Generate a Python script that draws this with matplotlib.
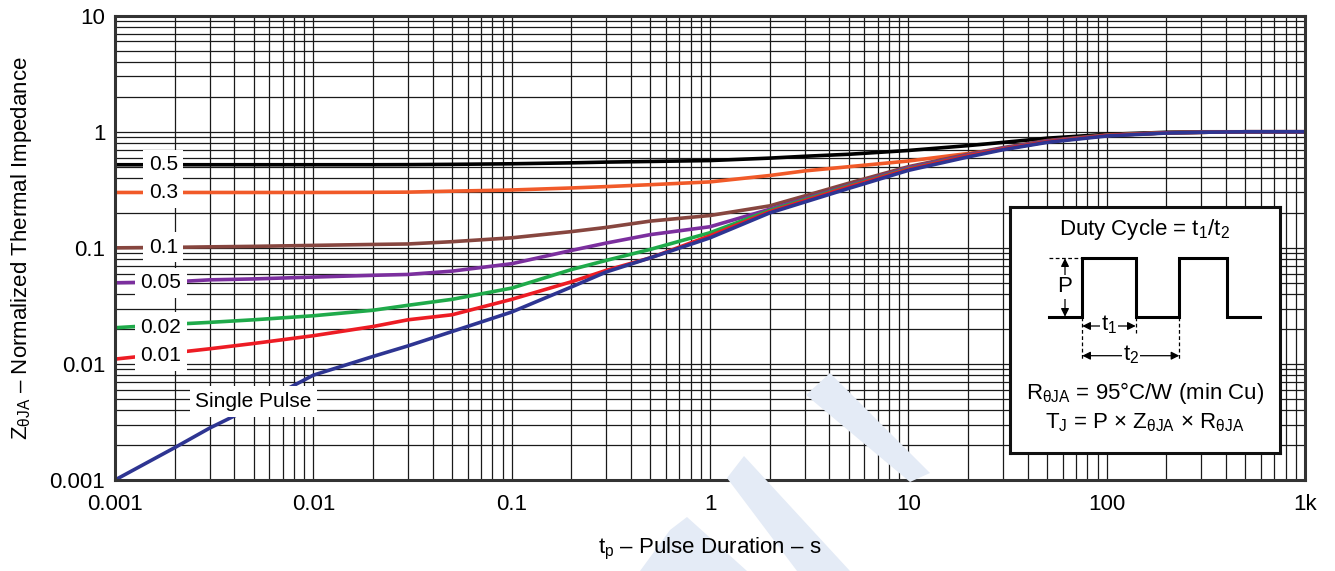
import numpy as np
import matplotlib
matplotlib.use("Agg")
import matplotlib.pyplot as plt
from matplotlib.patches import Polygon, FancyArrowPatch

plt.rcParams['font.family'] = ['Liberation Sans', 'DejaVu Sans']
plt.rcParams['mathtext.fontset'] = 'custom'
plt.rcParams['mathtext.rm'] = 'Liberation Sans'
plt.rcParams['mathtext.it'] = 'Liberation Sans:italic'

# pulse duration (s)
t = [0.001, 0.002, 0.003, 0.005, 0.01, 0.02, 0.03, 0.05, 0.1, 0.2, 0.3, 0.5,
     1, 2, 3, 5, 10, 20, 30, 50, 100, 200, 300, 500, 1000]

# normalized thermal impedance for each duty cycle
z_05 = [0.52, 0.52, 0.52, 0.52, 0.52, 0.52, 0.521, 0.524, 0.53, 0.54, 0.548, 0.555,
        0.565, 0.593, 0.615, 0.64, 0.69, 0.76, 0.81, 0.88, 0.95, 0.99, 1.0, 1.0, 1.0]
z_03 = [0.30, 0.30, 0.30, 0.30, 0.30, 0.301, 0.302, 0.308, 0.315, 0.328, 0.337, 0.35,
        0.37, 0.42, 0.46, 0.50, 0.56, 0.65, 0.71, 0.83, 0.93, 0.98, 0.99, 1.0, 1.0]
z_01 = [0.100, 0.101, 0.102, 0.103, 0.105, 0.107, 0.108, 0.113, 0.122, 0.138, 0.15, 0.17,
        0.19, 0.23, 0.28, 0.36, 0.50, 0.64, 0.73, 0.84, 0.94, 0.98, 0.99, 1.0, 1.0]
z_005 = [0.050, 0.051, 0.053, 0.054, 0.056, 0.058, 0.059, 0.063, 0.073, 0.095, 0.11, 0.13,
         0.152, 0.215, 0.265, 0.345, 0.49, 0.63, 0.72, 0.83, 0.93, 0.98, 0.99, 1.0, 1.0]
z_002 = [0.0205, 0.022, 0.0228, 0.024, 0.026, 0.029, 0.032, 0.036, 0.045, 0.065, 0.078, 0.097,
         0.135, 0.21, 0.26, 0.34, 0.48, 0.62, 0.71, 0.82, 0.93, 0.98, 0.99, 1.0, 1.0]
z_001 = [0.011, 0.0125, 0.0135, 0.015, 0.0175, 0.021, 0.024, 0.0265, 0.036, 0.051, 0.064, 0.082,
         0.127, 0.205, 0.255, 0.335, 0.475, 0.62, 0.71, 0.82, 0.93, 0.98, 0.99, 1.0, 1.0]
z_single = [0.001, 0.0019, 0.0028, 0.0043, 0.008, 0.0116, 0.0143, 0.019, 0.028, 0.046, 0.062, 0.082,
            0.122, 0.20, 0.248, 0.325, 0.465, 0.607, 0.70, 0.81, 0.92, 0.975, 0.99, 1.0, 1.0]

curves = [
    (z_05, '#000000', '0.5', 0.00175, 0.52),
    (z_03, '#f15a29', '0.3', 0.00175, 0.30),
    (z_01, '#87463f', '0.1', 0.00175, 0.101),
    (z_005, '#7b2f9e', '0.05', 0.00170, 0.050),
    (z_002, '#1faa4a', '0.02', 0.00170, 0.0208),
    (z_001, '#ed1c24', '0.01', 0.00170, 0.0118),
    (z_single, '#2e3592', 'Single Pulse', 0.0050, 0.00475),
]

W, H = 1335, 571
FS = 16
fig = plt.figure(figsize=(W / 100, H / 100), dpi=100)


def px(x, y):
    return (x / W, 1 - y / H)


# faint logo behind the grid
wm = '#e4ebf6'
for poly in [
    [(806, 395), (830, 373), (930, 473), (910, 482)],
    [(727, 478), (744, 456), (850, 571), (797, 571)],
    [(640, 571), (670, 530), (687, 517), (747, 571)],
]:
    fig.patches.append(Polygon([px(*p) for p in poly], closed=True,
                               transform=fig.transFigure, facecolor=wm,
                               edgecolor='none', zorder=0))

ax = fig.add_axes([115 / W, 1 - 480 / H, 1190 / W, 464.3 / H])
ax.set_facecolor('none')
ax.set_xscale('log')
ax.set_yscale('log')
ax.set_xlim(0.001, 1000)
ax.set_ylim(0.001, 10)

ax.grid(True, which='both', color='#1a1a1a', linewidth=0.9)
ax.set_axisbelow(True)
ax.tick_params(which='both', length=0, labelsize=FS)
ax.tick_params(axis='x', pad=10)
ax.tick_params(axis='y', pad=7)
ax.set_xticks([0.001, 0.01, 0.1, 1, 10, 100, 1000])
ax.set_xticklabels(['0.001', '0.01', '0.1', '1', '10', '100', '1k'])
ax.set_yticks([0.001, 0.01, 0.1, 1, 10])
ax.set_yticklabels(['0.001', '0.01', '0.1', '1', '10'])
for s in ax.spines.values():
    s.set_linewidth(2.2)
    s.set_color('#333333')
    s.set_zorder(5)

for z, c, lab, lx, ly in curves:
    ax.plot(t, z, color=c, linewidth=2.6, solid_capstyle='butt', zorder=3)
for z, c, lab, lx, ly in curves:
    ax.text(lx, ly, lab, fontsize=15, ha='center', va='center', zorder=4,
            bbox=dict(facecolor='white', edgecolor='none', pad=4))

fig.text(710 / W, 1 - 549 / H, r'$\mathrm{t_p}$ – Pulse Duration – s',
         fontsize=FS, ha='center', va='center')
fig.text(22 / W, 1 - 248 / H, r'Z$_{\mathrm{θJA}}$ – Normalized Thermal Impedance',
         fontsize=FS, ha='center', va='center', rotation=90)

# duty cycle diagram
ins = fig.add_axes([1010 / W, 1 - 453 / H, 270 / W, 246 / H], zorder=6)
ins.set_xlim(0, 270)
ins.set_ylim(246, 0)
ins.set_xticks([])
ins.set_yticks([])
ins.set_facecolor('white')
for s in ins.spines.values():
    s.set_linewidth(2.2)
    s.set_color('#111111')

base, top = 109.7, 51.3
x0, r1, f1, r2, f2, x1 = 39.3, 72.3, 125.7, 169.3, 216.7, 250
ins.plot([x0, r1, r1, f1, f1, r2, r2, f2, f2, x1],
         [base, base, top, top, base, base, top, top, base, base],
         color='black', linewidth=2.2, solid_joinstyle='miter')
dash = dict(color='black', linewidth=0.9, linestyle=(0, (3, 2)))
ins.plot([x0, r1], [top, top], **dash)
ins.plot([r1, r1], [base, 153], **dash)
ins.plot([f1, f1], [base, 126], **dash)
ins.plot([r2, r2], [base, 153], **dash)

for (xa, ya), (xb, yb) in [((55, top), (55, base)), ((r1, 119), (f1, 119)),
                           ((r1, 148.7), (r2, 148.7))]:
    ins.add_patch(FancyArrowPatch((xa, ya), (xb, yb), arrowstyle='<|-|>',
                                  mutation_scale=12, color='black', linewidth=0.9,
                                  shrinkA=0, shrinkB=0))
box = dict(facecolor='white', edgecolor='none', pad=1)
ins.text(55, 80, 'P', fontsize=FS, ha='center', va='center', bbox=box)
ins.text(99, 118, r't$_1$', fontsize=FS, ha='center', va='center', bbox=box)
ins.text(121, 147.7, r't$_2$', fontsize=FS, ha='center', va='center', bbox=box)
ins.text(135, 23, r'Duty Cycle = t$_1$/t$_2$', fontsize=FS, ha='center', va='center')
ins.text(135, 186, r'R$_{\mathrm{θJA}}$ = 95°C/W (min Cu)', fontsize=FS,
         ha='center', va='center')
ins.text(135, 216, r'T$_\mathrm{J}$ = P × Z$_{\mathrm{θJA}}$ × R$_{\mathrm{θJA}}$',
         fontsize=FS, ha='center', va='center')

fig.savefig('out.png', dpi=100)
